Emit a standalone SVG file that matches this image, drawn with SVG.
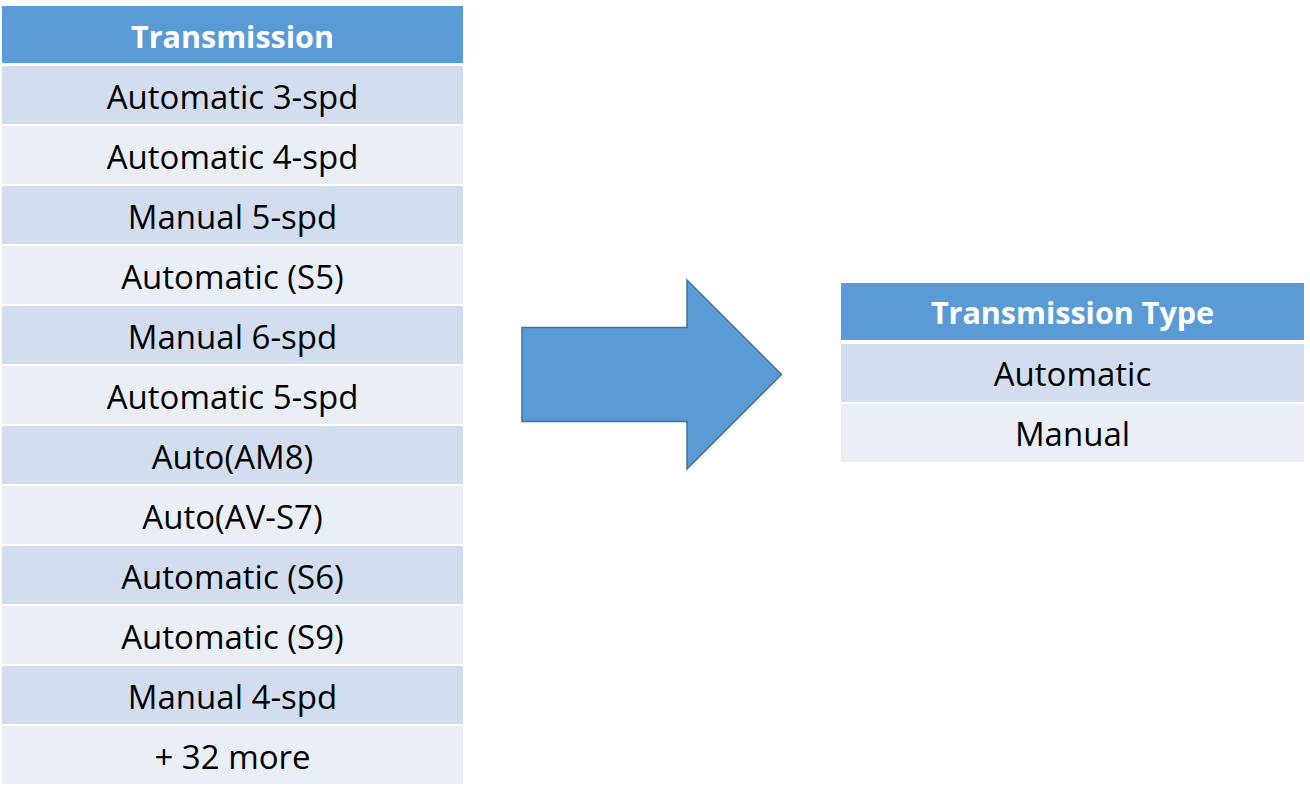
<svg xmlns="http://www.w3.org/2000/svg" width="1310" height="801" viewBox="0 0 1310 801">
<style>
.hdr{fill:#5B9BD5}
.dk{fill:#D2DEEF}
.lt{fill:#EAEFF7}
text{font-family:"Open Sans","Noto Sans","Liberation Sans",sans-serif;text-anchor:middle;font-size:33px;fill:#000}
text.h{font-weight:bold;font-size:30.5px;fill:#fff}
</style>
<rect width="1310" height="801" fill="#fff"/>
<g id="left-table">
<g id="left-header"><rect class="hdr" x="2" y="6" width="461" height="57"/><text class="h" x="232.5" y="47.5">Transmission</text></g>
<g id="l1"><rect class="dk" x="2" y="66" width="461" height="58"/><text x="232.5" y="108.5">Automatic 3-spd</text></g>
<g id="l2"><rect class="lt" x="2" y="126" width="461" height="58"/><text x="232.5" y="168.5">Automatic 4-spd</text></g>
<g id="l3"><rect class="dk" x="2" y="186" width="461" height="58"/><text x="232.5" y="228.5">Manual 5-spd</text></g>
<g id="l4"><rect class="lt" x="2" y="246" width="461" height="58"/><text x="232.5" y="288.5">Automatic (S5)</text></g>
<g id="l5"><rect class="dk" x="2" y="306" width="461" height="58"/><text x="232.5" y="348.5">Manual 6-spd</text></g>
<g id="l6"><rect class="lt" x="2" y="366" width="461" height="58"/><text x="232.5" y="408.5">Automatic 5-spd</text></g>
<g id="l7"><rect class="dk" x="2" y="426" width="461" height="58"/><text x="232.5" y="468.5">Auto(AM8)</text></g>
<g id="l8"><rect class="lt" x="2" y="486" width="461" height="58"/><text x="232.5" y="528.5">Auto(AV-S7)</text></g>
<g id="l9"><rect class="dk" x="2" y="546" width="461" height="58"/><text x="232.5" y="588.5">Automatic (S6)</text></g>
<g id="l10"><rect class="lt" x="2" y="606" width="461" height="58"/><text x="232.5" y="648.5">Automatic (S9)</text></g>
<g id="l11"><rect class="dk" x="2" y="666" width="461" height="58"/><text x="232.5" y="708.5">Manual 4-spd</text></g>
<g id="l12"><rect class="lt" x="2" y="726" width="461" height="58"/><text x="232.5" y="768.5">+ 32 more</text></g>
</g>
<g id="connectors">
<path d="M522,327.5 H687 V280 L781.5,374.5 L687,469 V421.5 H522 Z" fill="#5B9BD5" stroke="#41719C" stroke-width="1.5"/>
</g>
<g id="right-table">
<g id="right-header"><rect class="hdr" x="841" y="283" width="463" height="57"/><text class="h" x="1072.5" y="324">Transmission Type</text></g>
<g id="r1"><rect class="dk" x="841" y="344" width="463" height="58"/><text x="1072.5" y="386">Automatic</text></g>
<g id="r2"><rect class="lt" x="841" y="404" width="463" height="58"/><text x="1072.5" y="446">Manual</text></g>
</g>
</svg>
